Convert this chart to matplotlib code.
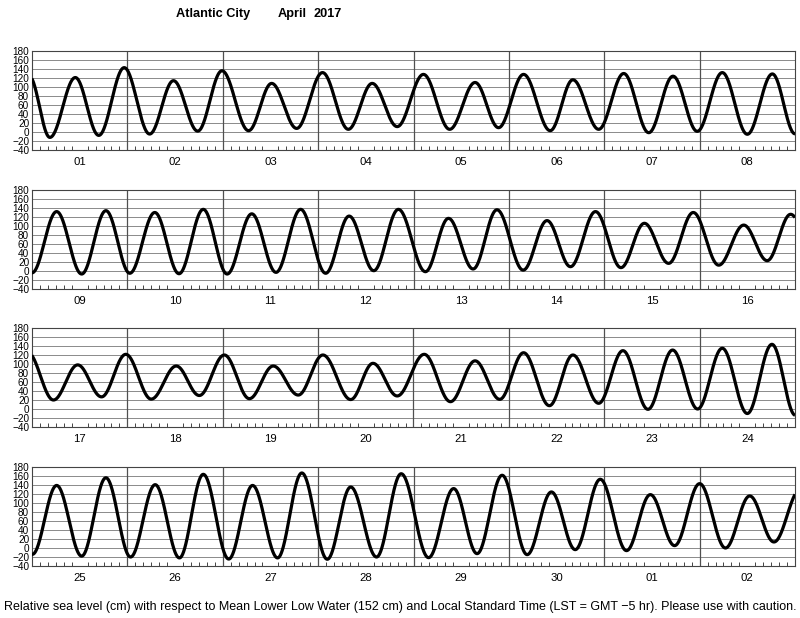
import numpy as np
import matplotlib
matplotlib.use('Agg')
import matplotlib.pyplot as plt

plt.rcParams['font.family'] = ['Liberation Sans', 'DejaVu Sans']

title_station = "Atlantic City"
title_month = "April"
title_year = "2017"
footer_text = ("Relative sea level (cm) with respect to Mean Lower Low Water (152 cm) "
               "and Local Standard Time (LST = GMT \u22125 hr). Please use with caution.")

day_labels = [
    ["01", "02", "03", "04", "05", "06", "07", "08"],
    ["09", "10", "11", "12", "13", "14", "15", "16"],
    ["17", "18", "19", "20", "21", "22", "23", "24"],
    ["25", "26", "27", "28", "29", "30", "01", "02"],
]
y_ticks = [-40, -20, 0, 20, 40, 60, 80, 100, 120, 140, 160, 180]

# High / low water times (hours since 1 April 00:00 LST) and heights (cm)
tide_hours = [
    -0.7, 4.5, 10.9, 16.8, 23.2, 29.6, 35.6, 41.7, 47.8, 54.5, 60.3, 66.6, 73.1, 79.6,
    85.6, 91.9, 98.5, 105.1, 111.5, 117.4, 123.7, 130.4, 136.1, 142.6, 148.9, 155.2,
    161.3, 167.4, 173.7, 180.0, 186.3, 192.0,
    198.2, 204.5, 210.6, 216.6, 222.9, 229.0, 235.1, 241.1, 247.3, 253.4, 259.6, 265.9,
    271.8, 278.0, 284.2, 291.0, 296.8, 303.0, 309.0, 315.6, 321.6, 327.5, 333.8, 340.2,
    346.1, 352.2, 358.4, 364.8, 371.1, 377.0, 382.9,
    389.4, 395.5, 401.5, 407.6, 414.0, 420.3, 426.1, 432.4, 438.7, 444.7, 451.0, 457.2,
    464.2, 469.8, 475.9, 482.7, 489.3, 495.5, 501.7, 507.7, 514.2, 520.1, 526.6, 532.7,
    539.0, 545.2, 551.5, 557.7, 564.0, 570.2, 576.1,
    582.2, 588.5, 594.6, 600.8, 607.0, 613.1, 619.1, 625.5, 631.5, 637.8, 643.9, 650.3,
    656.2, 662.7, 668.9, 675.8, 682.1, 688.0, 694.3, 700.6, 706.7, 712.7, 719.0, 725.6,
    731.6, 737.7, 744.0, 750.5, 756.6, 762.7, 769.3,
]
tide_cm = [
    124, -12, 121, -7.5, 143, -4.5, 114, 2, 136, 3, 108, 8, 132, 6,
    108, 12, 128, 6, 110, 9.6, 128, 3, 116, 6, 130, -1.5,
    124, 1.5, 132, -5, 129, -4,
    132, -6.7, 134, -5, 130, -6, 137, -6.7, 127, -3, 137, -5,
    122, 0.7, 137, -1.5, 117, 4.5, 136, 2, 112, 9.6, 132, 7.5,
    106, 17, 130, 13, 102, 23, 126,
    20, 98, 27, 121.5, 22, 95.5, 30, 120, 23, 95.5, 31, 120,
    21, 101.5, 29, 121.5, 16.3, 107, 21.5, 125, 7.4, 120, 12.7, 129.6,
    -0.7, 131, 0, 135, -10, 143.7, -14,
    139, -18, 156, -20, 140.7, -22, 163.7, -24.5, 139, -22, 166.7, -25,
    135.5, -20, 165, -21.4, 132, -12.5, 161.6, -14.7, 124.5, -3.6, 152.7, -5.8,
    118.6, 5.3, 143, 0, 115.6, 13.4, 130,
]

ext_t = np.array(tide_hours, dtype=float)
ext_v = np.array(tide_cm, dtype=float)
t = np.arange(ext_t[0], ext_t[-1], 0.05)
seg = np.clip(np.searchsorted(ext_t, t, side='right') - 1, 0, len(ext_t) - 2)
frac = (t - ext_t[seg]) / (ext_t[seg + 1] - ext_t[seg])
curve = ext_v[seg] + (ext_v[seg + 1] - ext_v[seg]) * (1 - np.cos(np.pi * frac)) / 2

W, H = 800, 618
fig = plt.figure(figsize=(W / 100, H / 100), dpi=100)

panel_tops = [51, 190, 328, 467]
ax_left, ax_right = 32, 795
ax_h = 99
grid_col = '#8a8a8a'
div_col = '#505050'

for i, top in enumerate(panel_tops):
    ax = fig.add_axes([ax_left / W, 1 - (top + ax_h) / H, (ax_right - ax_left) / W, ax_h / H])
    start = 192 * i
    ax.set_xlim(start, start + 192)
    ax.set_ylim(-40, 180)
    for yv in y_ticks[1:-1]:
        ax.axhline(yv, color=grid_col, lw=0.7, zorder=1)
    for d in range(1, 8):
        ax.axvline(start + 24 * d, color=div_col, lw=0.9, zorder=1)
    ax.plot(t, curve, color='black', lw=2.3, zorder=3, solid_capstyle='butt')
    ax.set_yticks(y_ticks)
    ax.set_yticklabels([f"{v}".replace('-', '\u2212') for v in y_ticks])
    ax.tick_params(axis='y', length=0, pad=2, labelsize=7.2, colors='black')
    centers = [start + 12 + 24 * d for d in range(8)]
    ax.set_xticks(centers)
    ax.set_xticklabels(day_labels[i])
    ax.tick_params(axis='x', which='major', length=0, pad=5, labelsize=8.2)
    ax.set_xticks([start + h for h in range(2, 192, 2) if h % 24 != 0], minor=True)
    ax.tick_params(axis='x', which='minor', direction='in', length=3, width=0.7,
                   color='#444444', top=False)
    for s in ax.spines.values():
        s.set_color('#444444')
        s.set_linewidth(0.8)

tsize, fsize = 9.2, 9.0
fig.text(213 / W, 1 - 14 / H, title_station, ha='center', va='center',
         fontsize=tsize, fontweight='bold')
fig.text(278 / W, 1 - 14 / H, title_month, ha='left', va='center',
         fontsize=tsize, fontweight='bold')
fig.text(313 / W, 1 - 14 / H, title_year, ha='left', va='center',
         fontsize=tsize, fontweight='bold')
fig.text(400 / W, 1 - 607 / H, footer_text, ha='center', va='center', fontsize=fsize)

fig.savefig('out.png', dpi=100)
